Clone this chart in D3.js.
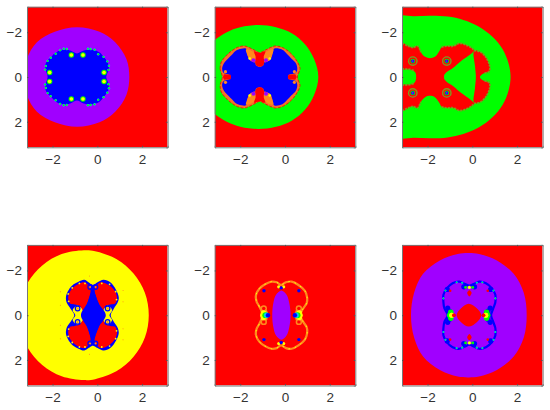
<!DOCTYPE html>
<html>
<head>
<meta charset="utf-8">
<script src="https://cdnjs.cloudflare.com/ajax/libs/d3/7.8.5/d3.min.js"></script>
<style>
  html, body { margin: 0; padding: 0; background: #fff; }
  svg { display: block; }
  .tick text { font-family: "Liberation Sans", Arial, sans-serif; font-size: 13.5px; fill: #333; }
</style>
</head>
<body>
<div id="chart"></div>
<script>
// tick labels and the shared axis range
const tickValues = [-2, 0, 2];
const axisRange = [-Math.PI, Math.PI];

// colour levels of the maps
const levelNames = ['red', 'orange', 'yellow', 'green', 'cyan', 'blue', 'purple', 'fringe', 'olive'];
const levelColors = ['#ff0000', '#ff8a1e', '#ffff00', '#00ff00', '#00c8ff', '#0000ff', '#a000ff', '#f5702a', '#7d9a20'];

// region outlines, in axis units. "Upper" ones get mirrored across y = 0

// panel 1
const p1Purple = [[1.43,0],[1.3,-0.8],[0.8,-1.55],[0.1,-2.02],[-0.9,-2.22],[-1.9,-2.02],[-2.7,-1.55],[-3.15,-0.8],[-3.3,0]];
const p1Blue = [[-2.22,0],[-2.31,-0.31],[-2.33,-0.53],[-2.22,-0.75],[-2.03,-0.93],[-1.88,-1.08],[-1.66,-1.2],[-1.39,-1.23],[-1.18,-1.17],[-0.91,-1.05],[-0.64,-1.17],[-0.39,-1.23],[-0.09,-1.2],[0.13,-1.08],[0.28,-0.9],[0.43,-0.72],[0.52,-0.49],[0.5,-0.28],[0.4,0]];
const p1BigSpots = [[-1.16,-0.98],[-0.64,-0.98],[-2.13,-0.2],[0.3,-0.2]];
const p1SmallSpots = [[-2.3,-0.49],[-2.33,-0.33],[-2.22,-0.72],[-2.08,-0.86],[-1.86,-1.04],[-1.66,-1.2],[-1.5,-1.26],[-1.36,-1.25],[-0.42,-1.26],[-0.3,-1.25],[-0.12,-1.22],[0.04,-1.02],[0.28,-0.9],[0.45,-0.7],[0.52,-0.5],[0.5,-0.32]];

// panel 2
const p2Green = [[1.49,0],[1.3,-0.8],[0.9,-1.45],[0.3,-1.95],[-0.4,-2.22],[-1.2,-2.32],[-2,-2.22],[-2.6,-2],[-3.14,-1.65],[-3.4,-1.4],[-3.4,0]];
const p2Fringe = [[-2.8,0],[-2.9,-0.38],[-2.84,-0.68],[-2.65,-0.93],[-2.43,-1.13],[-2.13,-1.32],[-1.83,-1.39],[-1.61,-1.32],[-1.31,-1.17],[-1.13,-1.08],[-0.94,-1.17],[-0.64,-1.32],[-0.42,-1.39],[-0.12,-1.32],[0.18,-1.13],[0.4,-0.9],[0.55,-0.68],[0.67,-0.38],[0.55,0]];
const p2Blue = [[-2.43,0],[-2.46,-0.09],[-2.75,-0.19],[-2.81,-0.38],[-2.72,-0.63],[-2.54,-0.83],[-2.35,-1.02],[-2.2,-1.17],[-1.95,-1.26],[-1.74,-1.26],[-1.68,-0.98],[-1.56,-0.75],[-1.33,-0.66],[-1.3,-0.53],[-1.13,-0.46],[-0.97,-0.53],[-0.94,-0.66],[-0.67,-0.75],[-0.57,-0.98],[-0.49,-1.26],[-0.12,-1.22],[0.1,-1.02],[0.28,-0.83],[0.48,-0.63],[0.55,-0.38],[0.49,-0.19],[0.16,-0.09],[0.13,0]];
const p2RedLobe = [[-1.38,-1.15],[-1.13,-1.08],[-0.88,-1.15],[-0.95,-0.9],[-0.93,-0.65],[-1,-0.5],[-1.13,-0.46],[-1.26,-0.5],[-1.33,-0.65],[-1.31,-0.9]];
const p2PatchLeft = [[-1.74,-1.23],[-1.38,-1.08],[-1.33,-0.66],[-1.56,-0.75],[-1.68,-0.98]];
const p2PatchRight = [[-0.52,-1.23],[-0.88,-1.08],[-0.93,-0.66],[-0.7,-0.75],[-0.58,-0.98]];
const p2PocketLeft = [[-2.78,0],[-2.72,-0.12],[-2.43,-0.1],[-2.41,0]];
const p2PocketRight = [[0.13,0],[0.15,-0.1],[0.46,-0.12],[0.52,0]];
const p2PurpleSpots = [[-1.41,-0.75],[-0.85,-0.75]];
const p2YellowSpots = [[-1.58,-0.83],[-0.68,-0.83]];
const p2SideSpots = [[-2.66,-0.24],[0.42,-0.24]];

// panel 3
const p3Green = [[1.71,0],[1.62,-0.6],[1.35,-1.25],[0.9,-1.8],[0.3,-2.25],[-0.4,-2.55],[-1.1,-2.7],[-1.8,-2.74],[-2.6,-2.72],[-3.4,-2.66],[-3.4,0]];
const p3RedBody = [[-2.51,0],[-2.56,-0.22],[-2.78,-0.34],[-3,-0.34],[-3.3,-0.38],[-3.3,-1.5],[-3.05,-1.5],[-2.86,-1.38],[-2.66,-1.31],[-2.45,-1.38],[-2.3,-1.11],[-2.11,-0.9],[-1.89,-0.84],[-1.67,-0.9],[-1.47,-1.16],[-1.37,-1.33],[-1.14,-1.38],[-0.85,-1.38],[-0.58,-1.5],[-0.33,-1.45],[-0.03,-1.3],[0.08,-1.19],[-0.55,-0.67],[-0.85,-0.41],[-1.14,-0.22],[-1.26,-0.07],[-1.26,0]];
const p3RedSide = [[0.16,0],[0.12,-0.49],[0.08,-1.16],[0.34,-1.13],[0.57,-0.93],[0.76,-0.56],[0.76,-0.26],[0.49,-0.16],[0.34,0]];
const p3EdgeLeft = [[-3.14,-1.5],[-2.86,-1.38],[-2.66,-1.31],[-2.45,-1.38],[-2.3,-1.11]];
const p3EdgeLow = [[-3.14,-0.36],[-2.78,-0.34],[-2.6,-0.28]];
const p3EdgeMid = [[-1.37,-1.33],[-1.14,-1.38],[-0.85,-1.38],[-0.58,-1.5],[-0.33,-1.45],[-0.03,-1.3],[0.08,-1.19],[0.34,-1.13],[0.57,-0.93],[0.76,-0.56],[0.76,-0.26],[0.49,-0.16]];
const p3Centres = [[-2.66,-0.71],[-1.14,-0.71]];

// panel 4
const p4Yellow = [[2.3,0],[2.13,-0.99],[1.62,-1.86],[0.85,-2.51],[-0.1,-2.86],[-0.6,-2.9],[-1.59,-2.73],[-2.46,-2.22],[-3.11,-1.45],[-3.46,-0.5],[-3.5,0]];
const p4Rim = [[-1.03,0],[-1.21,-0.31],[-1.36,-0.54],[-1.4,-0.83],[-1.28,-1.13],[-1.06,-1.38],[-0.84,-1.5],[-0.58,-1.58],[-0.39,-1.47],[-0.2,-1.35],[0.01,-1.47],[0.28,-1.58],[0.58,-1.47],[0.84,-1.13],[0.96,-0.79],[0.9,-0.54],[0.75,-0.31],[0.6,0]];
const p4LobeLeft = [[-1.3,-0.8],[-1.19,-1.1],[-1,-1.3],[-0.8,-1.42],[-0.58,-1.47],[-0.42,-1.36],[-0.3,-1.12],[-0.44,-0.55],[-0.62,-0.2],[-0.78,-0.42],[-1,-0.48],[-1.22,-0.52]];
const p4LobeRight = [[0.88,-0.8],[0.77,-1.1],[0.58,-1.3],[0.38,-1.42],[0.16,-1.47],[0,-1.36],[-0.12,-1.12],[0.06,-0.55],[0.24,-0.2],[0.36,-0.42],[0.58,-0.48],[0.8,-0.52]];
const p4Pinch = [[-0.98,0],[-1.1,-0.22],[-0.9,-0.42],[-0.62,-0.22],[-0.66,0]];
const p4PinchRight = [[0.54,0],[0.66,-0.22],[0.48,-0.42],[0.26,-0.22],[0.32,0]];
const p4Diamond = [[-0.73,0],[-0.46,-0.52],[-0.2,-1.14],[0.06,-0.52],[0.38,0]];
const p4Rings = [[-0.88,-0.3],[0.46,-0.3],[-0.32,-1.26],[-0.08,-1.26]];
const p4Flecks = [[-1.3,-0.95],[-1.12,-1.22],[-0.8,-1.42],[-1.28,-0.62],[0.55,-1.38],[0.82,-1.05],[0.86,-0.7],[-0.55,-1.42],[0.2,-1.42],[-0.95,-0.12],[0.5,-0.12]];
const p4Specks = [[-1.65,-1.05],[-1.65,-0.45],[-0.35,-1.75],[1.15,-0.6],[1.15,-1.1]];

// panel 5
const p5Ring = [[-1,0],[-1.15,-0.39],[-1.27,-0.61],[-1.3,-0.88],[-1.15,-1.18],[-0.89,-1.38],[-0.6,-1.5],[-0.37,-1.47],[-0.18,-1.35],[0.04,-1.47],[0.3,-1.5],[0.6,-1.35],[0.89,-1.09],[0.99,-0.79],[0.97,-0.54],[0.82,-0.31],[0.67,0]];
const p5Pill = [[-0.57,0],[-0.52,-0.54],[-0.4,-0.91],[-0.16,-1.1],[0.07,-0.91],[0.19,-0.54],[0.25,0]];
const p5Halo = [[-0.92,-0.12],[0.6,-0.12],[-0.95,-0.3],[0.62,-0.3]];
const p5SpotYellow = [[-0.98,0],[0.66,0],[-0.96,-0.1],[0.64,-0.1]];
const p5SpotGreen = [[-0.88,0],[0.56,0]];
const p5SpotCyan = [[-0.82,0],[0.5,0]];
const p5SpotBlue = [[-0.76,0],[0.44,0]];
const p5TopYellow = [[-0.28,-1.27],[-0.06,-1.27]];
const p5TopBlue = [[-0.17,-1.22],[-0.94,-1.09],[0.62,-1.09]];

// panel 6
const p6Purple = [[2.43,0],[2.3,-1],[1.85,-1.85],[1.1,-2.45],[0.3,-2.74],[-0.15,-2.78],[-0.65,-2.74],[-1.45,-2.45],[-2.2,-1.85],[-2.6,-1],[-2.74,0]];
const p6Rim = [[-1.1,0],[-1.25,-0.31],[-1.29,-0.58],[-1.29,-0.91],[-1.14,-1.2],[-0.88,-1.43],[-0.58,-1.5],[-0.35,-1.41],[-0.13,-1.32],[0.09,-1.41],[0.31,-1.5],[0.61,-1.43],[0.88,-1.2],[1.03,-0.91],[1.03,-0.58],[0.94,-0.31],[0.84,0]];
const p6RedCore = [[-0.7,0],[-0.5,-0.31],[-0.16,-0.51],[0.2,-0.31],[0.4,0]];
const p6RedDrop = [[-0.13,-1.12],[-0.03,-1],[-0.13,-0.84],[-0.23,-1]];
const p6SpotBlue = [[-1.02,-0.18],[0.7,-0.18],[-1.1,-0.32],[0.8,-0.32],[-0.38,-1.27],[0.1,-1.27],[-1.12,-1.15],[0.82,-1.15]];
const p6SpotGreen = [[-1,0],[-0.96,-0.13],[0.68,0],[0.64,-0.13]];
const p6SpotYellow = [[-0.92,0],[0.6,0]];
const p6SpotRed = [[-0.82,0],[0.5,0]];
const p6TopGreen = [[-0.3,-1.24],[0.02,-1.24]];
const p6TopYellow = [[-0.13,-1.24]];
const p6SmallRed = [[-0.99,-1.09],[0.69,-1.09]];
const p6RimDots = [[-1.29,-0.75],[-1.2,-1.1],[-0.7,-1.47],[-0.45,-1.45],[0.2,-1.45],[0.45,-1.47],[0.95,-1.1],[1.03,-0.75]];

const width = 550;
const height = 410;
const panelSize = 140.6;
const panelLefts = [27, 214.7, 402];
const panelTops = [6.7, 244.9];

const svg = d3.select('#chart').append('svg').attr('width', width).attr('height', height);

// reference is a slightly soft raster
const defs = svg.append('defs');
defs.append('filter').attr('id', 'soft')
  .attr('x', '-5%').attr('y', '-5%').attr('width', '110%').attr('height', '110%')
  .append('feGaussianBlur').attr('stdDeviation', 0.45);
defs.append('clipPath').attr('id', 'frame').append('rect').attr('width', panelSize).attr('height', panelSize);

const xScale = d3.scaleLinear().domain(axisRange).range([0, panelSize]);
const yScale = d3.scaleLinear().domain(axisRange).range([0, panelSize]);
const colorScale = d3.scaleOrdinal().domain(levelNames).range(levelColors);

const outline = d3.line().x(d => xScale(d[0])).y(d => yScale(d[1])).curve(d3.curveCatmullRomClosed.alpha(0.5));
const openLine = d3.line().x(d => xScale(d[0])).y(d => yScale(d[1])).curve(d3.curveCatmullRom.alpha(0.5));
const corners = d3.line().x(d => xScale(d[0])).y(d => yScale(d[1])).curve(d3.curveLinearClosed);

const flip = pts => pts.map(p => [p[0], -p[1]]);
// close an upper half outline through its mirror image
const whole = upper => upper.concat(flip(upper).reverse().filter(p => p[1] !== 0));
const twin = pts => pts.concat(flip(pts));

function panel(col, row) {
  const g = svg.append('g').attr('transform', `translate(${panelLefts[col]},${panelTops[row]})`);
  const clip = g.append('g').attr('clip-path', 'url(#frame)');
  const art = clip.append('g').attr('filter', 'url(#soft)');
  art.append('rect').attr('width', panelSize).attr('height', panelSize).attr('fill', colorScale('red'));
  return { g, art };
}

function region(art, level, pts, path) {
  return art.append('path').attr('d', (path || outline)(pts)).attr('fill', colorScale(level));
}

function trace(art, level, pts, sw, dash) {
  art.append('path').attr('d', openLine(pts)).attr('fill', 'none')
    .attr('stroke', colorScale(level)).attr('stroke-width', sw)
    .attr('stroke-dasharray', dash || null);
}

function loop(art, level, pts, sw, dash) {
  art.append('path').attr('d', outline(pts)).attr('fill', 'none')
    .attr('stroke', colorScale(level)).attr('stroke-width', sw)
    .attr('stroke-dasharray', dash || null);
}

function dots(art, level, pts, r) {
  art.selectAll(null).data(pts).enter().append('circle')
    .attr('cx', d => xScale(d[0])).attr('cy', d => yScale(d[1]))
    .attr('r', r).attr('fill', colorScale(level));
}

function rings(art, level, pts, r, sw) {
  art.selectAll(null).data(pts).enter().append('circle')
    .attr('cx', d => xScale(d[0])).attr('cy', d => yScale(d[1]))
    .attr('r', r).attr('fill', 'none').attr('stroke', colorScale(level)).attr('stroke-width', sw);
}

function axes(g) {
  const frame = '#777';
  const tick = 1.5;
  const fmt = d3.format('d');
  const bottom = g.append('g').attr('transform', `translate(0,${panelSize})`)
    .call(d3.axisBottom(xScale).tickValues(tickValues).tickFormat(fmt).tickSize(-tick).tickPadding(7));
  const left = g.append('g')
    .call(d3.axisLeft(yScale).tickValues(tickValues).tickFormat(fmt).tickSize(-tick).tickPadding(5));
  const top = g.append('g')
    .call(d3.axisTop(xScale).tickValues(tickValues).tickSize(-tick).tickFormat(''));
  const right = g.append('g').attr('transform', `translate(${panelSize},0)`)
    .call(d3.axisRight(yScale).tickValues(tickValues).tickSize(-tick).tickFormat(''));
  [bottom, left, top, right].forEach(a => {
    a.selectAll('.domain').attr('stroke', frame).attr('stroke-width', 1);
    a.selectAll('.tick line').attr('stroke', '#555');
  });
}

// panel 1
{
  const { g, art } = panel(0, 0);
  region(art, 'purple', whole(p1Purple));
  region(art, 'blue', whole(p1Blue));
  dots(art, 'cyan', twin(p1SmallSpots), 1.2);
  dots(art, 'green', twin(p1SmallSpots), 0.9);
  dots(art, 'green', twin(p1BigSpots), 2.7);
  dots(art, 'yellow', twin(p1BigSpots), 1.8);
  axes(g);
}

// panel 2
{
  const { g, art } = panel(1, 0);
  region(art, 'green', whole(p2Green));
  region(art, 'fringe', whole(p2Fringe));
  loop(art, 'red', whole(p2Fringe), 0.8, '3 1.5');
  region(art, 'blue', whole(p2Blue));
  [p2PatchLeft, flip(p2PatchLeft), p2PatchRight, flip(p2PatchRight)].forEach(p => region(art, 'orange', p));
  [p2RedLobe, flip(p2RedLobe)].forEach(p => region(art, 'red', p));
  [p2PocketLeft, p2PocketRight].forEach(p => region(art, 'red', whole(p), corners));
  dots(art, 'purple', twin(p2PurpleSpots), 2);
  dots(art, 'yellow', twin(p2YellowSpots), 1.3);
  dots(art, 'orange', twin(p2SideSpots), 1.6);
  axes(g);
}

// panel 3
{
  const { g, art } = panel(2, 0);
  region(art, 'green', whole(p3Green));
  region(art, 'red', whole(p3RedBody));
  region(art, 'red', whole(p3RedSide));
  [p3EdgeLeft, flip(p3EdgeLeft), p3EdgeMid, flip(p3EdgeMid), p3EdgeLow, flip(p3EdgeLow)]
    .forEach(p => trace(art, 'olive', p, 1.8, '2 1.2'));
  rings(art, 'olive', twin(p3Centres), 4.2, 1.4);
  dots(art, 'green', twin(p3Centres), 2.4);
  dots(art, 'blue', twin(p3Centres), 1.6);
  dots(art, 'purple', twin(p3Centres), 0.8);
  axes(g);
}

// panel 4
{
  const { g, art } = panel(0, 1);
  region(art, 'yellow', whole(p4Yellow));
  dots(art, 'orange', twin(p4Specks), 0.5);
  region(art, 'blue', whole(p4Rim));
  region(art, 'yellow', whole(p4Pinch));
  region(art, 'yellow', whole(p4PinchRight));
  [p4LobeLeft, flip(p4LobeLeft), p4LobeRight, flip(p4LobeRight)].forEach(p => region(art, 'red', p));
  region(art, 'blue', whole(p4Diamond));
  dots(art, 'yellow', twin(p4Flecks), 0.9);
  rings(art, 'blue', twin(p4Rings), 2.3, 1.2);
  dots(art, 'orange', twin(p4Rings), 1);
  axes(g);
}

// panel 5
{
  const { g, art } = panel(1, 1);
  dots(art, 'orange', twin(p5Halo), 3.2);
  dots(art, 'red', twin([p5Halo[2], p5Halo[3]]), 1.7);
  loop(art, 'orange', whole(p5Ring), 2.2);
  loop(art, 'yellow', whole(p5Ring), 1, '1.5 5');
  region(art, 'purple', whole(p5Pill));
  dots(art, 'yellow', p5SpotYellow.concat(flip(p5SpotYellow)), 2.8);
  dots(art, 'green', p5SpotGreen, 3);
  dots(art, 'cyan', p5SpotCyan, 2.6);
  dots(art, 'blue', p5SpotBlue, 2.2);
  dots(art, 'yellow', twin(p5TopYellow), 1.6);
  dots(art, 'blue', twin(p5TopBlue), 1.7);
  axes(g);
}

// panel 6
{
  const { g, art } = panel(2, 1);
  region(art, 'purple', whole(p6Purple));
  loop(art, 'blue', whole(p6Rim), 2.2);
  dots(art, 'blue', twin(p6SpotBlue), 2.6);
  dots(art, 'cyan', twin(p6RimDots), 1.1);
  dots(art, 'green', twin(p6RimDots), 0.6);
  dots(art, 'green', twin(p6SpotGreen), 2.8);
  dots(art, 'yellow', twin(p6SpotYellow), 2.5);
  dots(art, 'red', twin(p6SpotRed), 1.8);
  dots(art, 'green', twin(p6TopGreen), 1.4);
  dots(art, 'yellow', twin(p6TopYellow), 1.6);
  dots(art, 'red', twin(p6SmallRed), 1.3);
  region(art, 'red', whole(p6RedCore));
  [p6RedDrop, flip(p6RedDrop)].forEach(p => region(art, 'red', p));
  axes(g);
}
</script>
</body>
</html>
